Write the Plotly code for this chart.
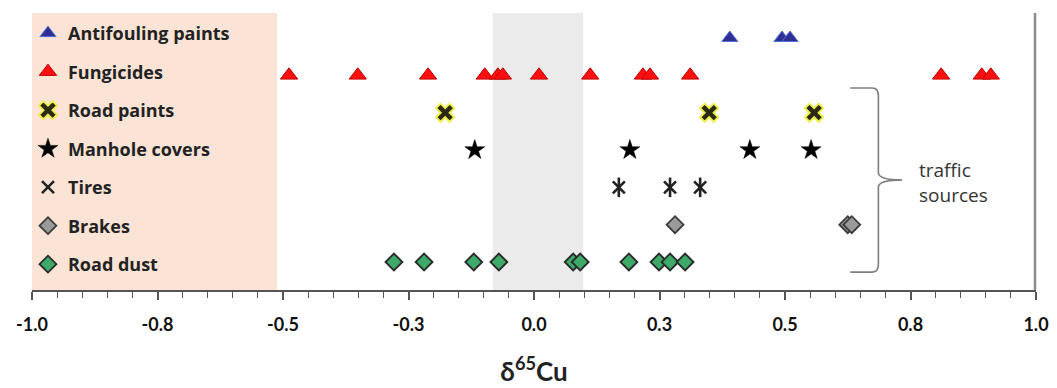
import plotly.graph_objects as go

# ---- data (delta65Cu values) ----
categories = ["Antifouling paints", "Fungicides", "Road paints", "Manhole covers",
              "Tires", "Brakes", "Road dust"]
antifouling = [0.39, 0.494, 0.51]
fungicides = [-0.488, -0.351, -0.211, -0.098, -0.072, -0.062, 0.010, 0.112,
              0.217, 0.231, 0.311, 0.811, 0.892, 0.910]
road_paints = [-0.177, 0.349, 0.558]
manhole_covers = [-0.118, 0.191, 0.430, 0.552]
tires = [0.169, 0.271, 0.331]
brakes = [0.281, 0.625, 0.633]
road_dust = [-0.279, -0.219, -0.120, -0.070, 0.078, 0.092, 0.189, 0.249, 0.271, 0.301]

tick_vals = [-1.0, -0.75, -0.5, -0.25, 0.0, 0.25, 0.5, 0.75, 1.0]
tick_text = ["-1.0", "-0.8", "-0.5", "-0.3", "0.0", "0.3", "0.5", "0.8", "1.0"]

# row index for each category (top row = highest)
row = {c: len(categories) - 1 - i for i, c in enumerate(categories)}

fig = go.Figure()

def add(name, xs, symbol, size, color, lcolor, lwidth, showlegend=True):
    fig.add_trace(go.Scatter(
        x=xs, y=[row[name]] * len(xs), mode="markers", name=name,
        legendgroup=name, showlegend=showlegend,
        marker=dict(symbol=symbol, size=size, color=color,
                    line=dict(color=lcolor, width=lwidth)),
    ))

add("Antifouling paints", antifouling, "triangle-up", 14, "#2F2E93", "#4F6FD8", 1)
add("Fungicides", fungicides, "triangle-up", 15, "#FF1010", "#C00000", 1)
add("Road paints", road_paints, "x", 16, "#2A2A10", "#EEEE50", 2)
add("Manhole covers", manhole_covers, "star", 15, "#000000", "#000000", 0.5)
add("Tires", tires, "x-thin-open", 12, "#222222", "#222222", 2.6)
add("Tires", tires, "line-ns-open", 14, "#222222", "#222222", 2.6, showlegend=False)
add("Brakes", brakes, "diamond", 13, "#9A9A9A", "#3A3A3A", 1.8)
add("Road dust", road_dust, "diamond", 13, "#3DAA6A", "#2A2A2A", 1.8)

# background regions
fig.add_shape(type="rect", xref="x", yref="paper", x0=-1.0, x1=-0.512, y0=0, y1=1,
              fillcolor="#FBE4D6", line_width=0, layer="below")
fig.add_shape(type="rect", xref="x", yref="paper", x0=-0.082, x1=0.098, y0=0, y1=1,
              fillcolor="#EBEBEB", line_width=0, layer="below")
# right frame line
fig.add_shape(type="line", xref="paper", yref="paper", x0=0.999, x1=0.999, y0=0, y1=1,
              line=dict(color="#8C8C8C", width=2.5))

# curly bracket for traffic sources
bx0, bx1, bxt = 0.630, 0.686, 0.733
yt, ym, yb = 4.66, 2.2, -0.27
r = 0.2
path = (f"M {bx0},{yt} L {bx1-0.012},{yt} Q {bx1},{yt} {bx1},{yt-r} "
        f"L {bx1},{ym+r} Q {bx1},{ym} {bxt},{ym} Q {bx1},{ym} {bx1},{ym-r} "
        f"L {bx1},{yb+r} Q {bx1},{yb} {bx1-0.012},{yb} L {bx0},{yb}")
fig.add_shape(type="path", xref="x", yref="y", path=path,
              line=dict(color="#7F7F7F", width=1.6))
fig.add_annotation(x=0.763, y=2.12, xref="x", yref="y", text="traffic<br>sources",
                   showarrow=False, xanchor="left", yanchor="middle", align="left",
                   font=dict(family="Open Sans", size=19, color="#333333"))

# page body has an 8px margin: figure is sized/offset so the plot lands where the reference has it
fig.update_layout(
    width=1049, height=380,
    margin=dict(l=24, r=21, t=5, b=98),
    paper_bgcolor="white", plot_bgcolor="white",
    showlegend=True,
    legend=dict(x=-0.004, y=0.993, xanchor="left", yanchor="top",
                bgcolor="rgba(0,0,0,0)", tracegroupgap=12.1, maxheight=600,
                font=dict(family="Open Sans", size=18, color="#222222", weight="bold"),
                traceorder="grouped"),
    xaxis=dict(range=[-1.0, 1.0], tickmode="array", tickvals=tick_vals, ticktext=tick_text,
               showgrid=False, zeroline=False, showline=True, linecolor="#555555",
               linewidth=1.5, ticks="outside", ticklen=8, tickcolor="#555555",
               tickwidth=1.5, ticklabelstandoff=10,
               tickfont=dict(family="Lato", size=18, color="#111111", weight="bold"),
               minor=dict(dtick=0.05, ticks="outside", ticklen=6, tickcolor="#555555",
                          tickwidth=1.3, showgrid=False),
               title=dict(text="δ<sup>65</sup>Cu", standoff=28,
                          font=dict(family="Lato", size=26,
                                    color="#222222", weight="bold"))),
    yaxis=dict(range=[-0.75, 6.67], visible=False, fixedrange=True),
)

fig.write_html("out.html")
